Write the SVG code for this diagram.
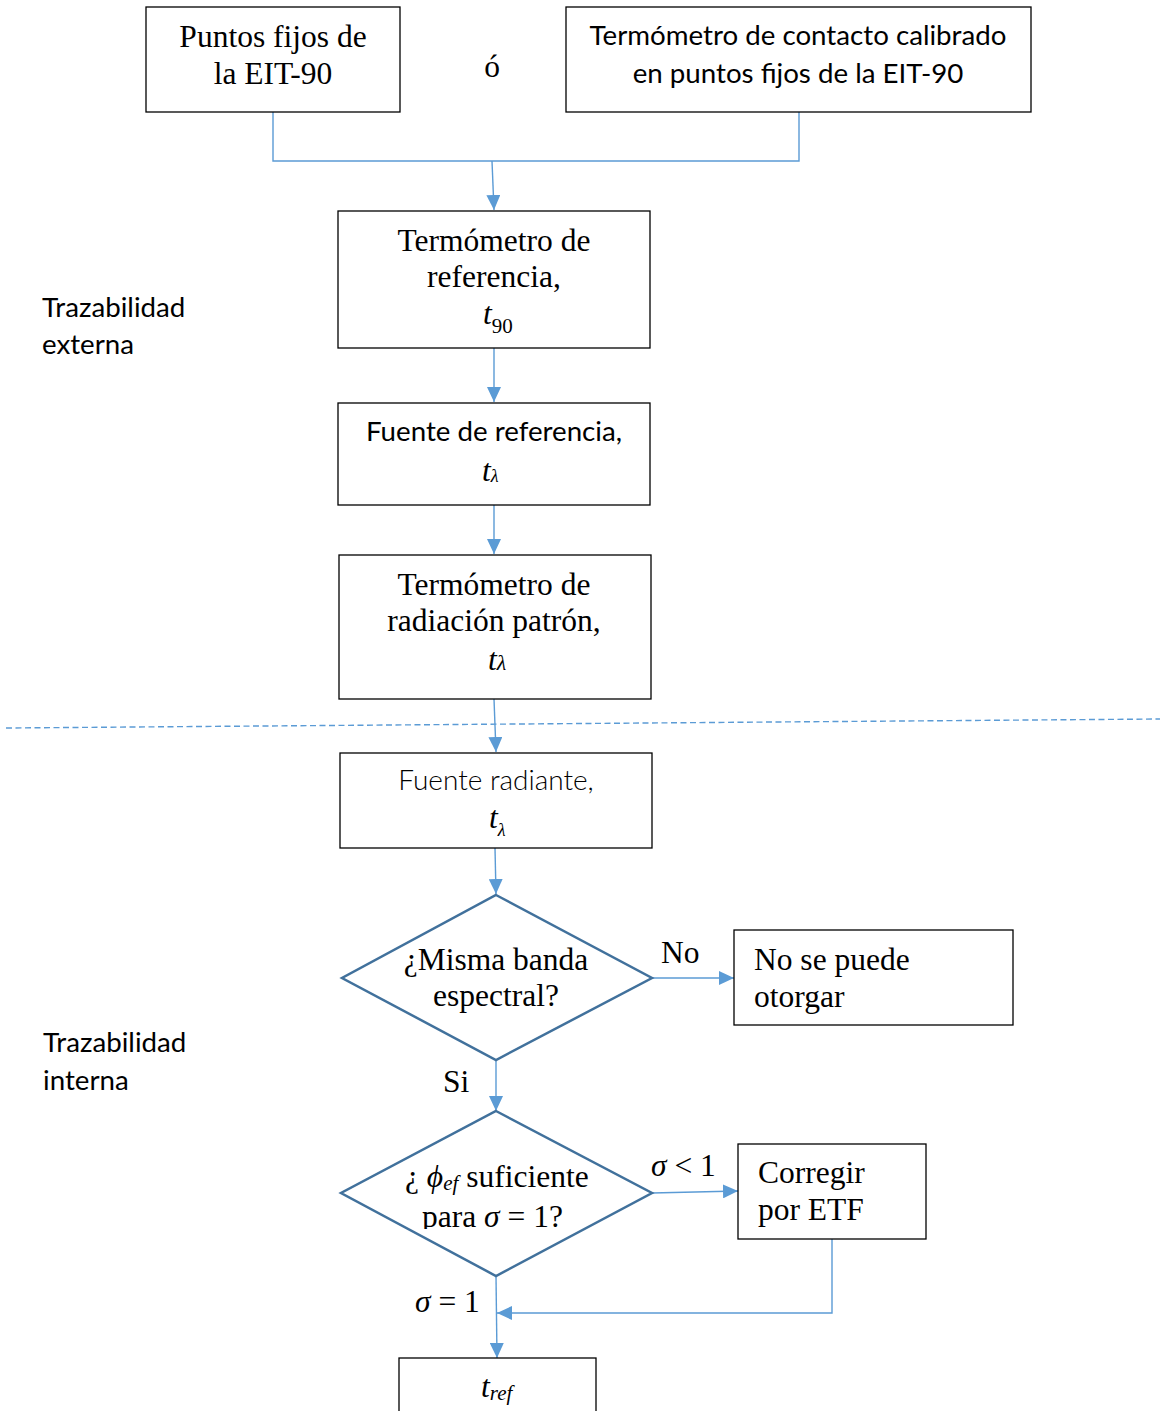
<svg xmlns="http://www.w3.org/2000/svg" width="1161" height="1411" viewBox="0 0 1161 1411">
<style>
  .box { fill: #ffffff; stroke: #000000; stroke-width: 1.3; }
  .dia { fill: #ffffff; stroke: #41719C; stroke-width: 2.5; }
  .con { fill: none; stroke: #5B9BD5; stroke-width: 1.4; }
  .serif { font-family: "Liberation Serif", "Times New Roman", serif; font-size: 31.5px; fill: #000; }
  .sans { font-family: "Lato", "Liberation Sans", sans-serif; font-size: 27.7px; fill: #000; }
  .light { font-family: "Lato", "Liberation Sans", sans-serif; font-size: 28px; font-weight: 300; fill: #000; }
  .it { font-style: italic; }
</style>
<defs>
  <marker id="arr" markerUnits="userSpaceOnUse" markerWidth="16" markerHeight="14" refX="15" refY="7" orient="auto">
    <path d="M0,0 L15,7 L0,14 z" fill="#5B9BD5"/>
  </marker>
  <clipPath id="clipD2">
    <rect x="340" y="1100" width="320" height="129"/>
  </clipPath>
</defs>
<rect width="1161" height="1411" fill="#ffffff"/>

<!-- dashed separator -->
<line x1="6" y1="728" x2="1160" y2="719" stroke="#5B9BD5" stroke-width="1.4" stroke-dasharray="6,3.5"/>

<!-- side labels -->
<text class="sans" x="42" y="317">Trazabilidad</text>
<text class="sans" x="42" y="354">externa</text>
<text class="sans" x="43" y="1052">Trazabilidad</text>
<text class="sans" x="43" y="1090">interna</text>

<g id="connectors">
  <path class="con" d="M273,112 V161 H799 V112"/>
  <line class="con" x1="492" y1="161" x2="494" y2="210" marker-end="url(#arr)"/>
  <line class="con" x1="494" y1="348" x2="494" y2="402" marker-end="url(#arr)"/>
  <line class="con" x1="494" y1="505" x2="494" y2="554" marker-end="url(#arr)"/>
  <line class="con" x1="494" y1="699" x2="496" y2="752" marker-end="url(#arr)"/>
  <line class="con" x1="495" y1="848" x2="496" y2="894" marker-end="url(#arr)"/>
  <line class="con" x1="652" y1="978" x2="734" y2="978" marker-end="url(#arr)"/>
  <line class="con" x1="496" y1="1061" x2="496" y2="1111" marker-end="url(#arr)"/>
  <line class="con" x1="652" y1="1193" x2="738" y2="1191" marker-end="url(#arr)"/>
  <path class="con" d="M832,1239 V1313 H497" marker-end="url(#arr)"/>
  <line class="con" x1="496" y1="1276" x2="497" y2="1358" marker-end="url(#arr)"/>
</g>

<g id="n-puntos">
  <rect class="box" x="146" y="7" width="254" height="105"/>
  <text class="serif" x="273" y="47" text-anchor="middle">Puntos fijos de</text>
  <text class="serif" x="273" y="84" text-anchor="middle">la EIT-90</text>
</g>

<g id="n-o">
  <text class="serif" x="492" y="77" text-anchor="middle" font-size="27">ó</text>
</g>

<g id="n-termocontacto">
  <rect class="box" x="566" y="7" width="465" height="105"/>
  <text class="sans" x="798" y="45" text-anchor="middle">Termómetro de contacto calibrado</text>
  <text class="sans" x="798" y="83" text-anchor="middle">en puntos fijos de la EIT-90</text>
</g>

<g id="n-termoref">
  <rect class="box" x="338" y="211" width="312" height="137"/>
  <text class="serif" x="494" y="251" text-anchor="middle">Termómetro de</text>
  <text class="serif" x="494" y="287" text-anchor="middle">referencia,</text>
  <text class="serif" x="483" y="324"><tspan class="it">t</tspan><tspan font-size="21" dy="9">90</tspan></text>
</g>

<g id="n-fuenteref">
  <rect class="box" x="338" y="403" width="312" height="102"/>
  <text class="sans" x="494" y="441" text-anchor="middle">Fuente de referencia,</text>
  <text class="serif it" x="482" y="481" font-size="26">t<tspan font-size="18" dy="1">λ</tspan></text>
</g>

<g id="n-termorad">
  <rect class="box" x="339" y="555" width="312" height="144"/>
  <text class="serif" x="494" y="595" text-anchor="middle">Termómetro de</text>
  <text class="serif" x="494" y="631" text-anchor="middle">radiación patrón,</text>
  <text class="serif it" x="488" y="670" font-size="28">t<tspan font-size="22">λ</tspan></text>
</g>

<g id="n-fuenterad">
  <rect class="box" x="340" y="753" width="312" height="95"/>
  <text class="light" x="496" y="790" text-anchor="middle">Fuente radiante,</text>
  <text class="serif it" x="489" y="828" font-size="26">t<tspan font-size="18" dy="8">λ</tspan></text>
</g>

<g id="n-misma">
  <polygon class="dia" points="496,895 652,978 496,1060 342,978"/>
  <text class="serif" x="496" y="970" text-anchor="middle">¿Misma banda</text>
  <text class="serif" x="496" y="1006" text-anchor="middle">espectral?</text>
</g>

<g id="l-no">
  <text class="serif" x="661" y="963">No</text>
</g>

<g id="n-nootorgar">
  <rect class="box" x="734" y="930" width="279" height="95"/>
  <text class="serif" x="754" y="970">No se puede</text>
  <text class="serif" x="754" y="1007">otorgar</text>
</g>

<g id="l-si">
  <text class="serif" x="443" y="1092">Si</text>
</g>

<g id="n-phi">
  <polygon class="dia" points="496,1111 652,1193 496,1276 341,1193"/>
  <g clip-path="url(#clipD2)">
    <text class="serif" x="405" y="1187">¿ <tspan class="it">ϕ</tspan><tspan class="it" font-size="21" dy="3">ef</tspan><tspan dy="-3"> suficiente</tspan></text>
    <text class="serif" x="422" y="1227">para  <tspan class="it">σ</tspan> = 1?</text>
  </g>
</g>

<g id="l-menor">
  <text class="serif" x="651" y="1176"><tspan class="it">σ</tspan> &lt; 1</text>
</g>

<g id="n-corregir">
  <rect class="box" x="738" y="1144" width="188" height="95"/>
  <text class="serif" x="758" y="1183">Corregir</text>
  <text class="serif" x="758" y="1220">por ETF</text>
</g>

<g id="l-igual">
  <text class="serif" x="415" y="1312"><tspan class="it">σ</tspan> = 1</text>
</g>

<g id="n-tref">
  <rect class="box" x="399" y="1358" width="197" height="70"/>
  <text class="serif it" x="481" y="1397" font-size="28">t<tspan font-size="21" dy="3">ref</tspan></text>
</g>
</svg>
